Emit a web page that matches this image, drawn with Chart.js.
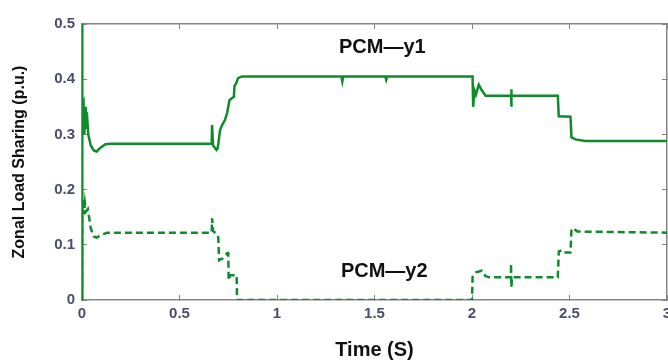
<!DOCTYPE html>
<html>
<head>
<meta charset="utf-8">
<script src="https://cdn.jsdelivr.net/npm/chart.js@4"></script>
<style>
  html, body { margin: 0; padding: 0; background: #fff; }
  #wrap { width: 668px; height: 362px; }
</style>
</head>
<body>
<div id="wrap"><canvas id="graph" width="668" height="362"></canvas></div>
<script>
// PCM-y1 (solid) : time (s) / load share (p.u.)
var y1Time = [0, 0, 0.003, 0.008, 0.012, 0.016, 0.02, 0.025, 0.032, 0.045, 0.06, 0.075, 0.095, 0.12, 0.15,
  0.665, 0.667, 0.672, 0.69, 0.696, 0.708, 0.72, 0.733, 0.745, 0.756, 0.77, 0.779, 0.782, 0.79, 0.8, 0.82,
  1.33, 1.335, 1.34, 1.555, 1.56, 1.565, 2.003, 2.006, 2.012, 2.02, 2.035, 2.05, 2.07,
  2.2, 2.2, 2.202, 2.205, 2.44, 2.445, 2.505, 2.51, 2.53, 2.58, 3];
var y1Vals = [0, 0.5, 0.35, 0.357, 0.30, 0.35, 0.31, 0.34, 0.30, 0.28, 0.271, 0.269, 0.276, 0.282, 0.283,
  0.283, 0.317, 0.28, 0.272, 0.275, 0.308, 0.318, 0.326, 0.34, 0.362, 0.366, 0.368, 0.388, 0.392, 0.402, 0.405,
  0.405, 0.396, 0.405, 0.405, 0.399, 0.405, 0.405, 0.35, 0.38, 0.372, 0.39, 0.38, 0.37,
  0.37, 0.382, 0.35, 0.37, 0.37, 0.333, 0.332, 0.295, 0.291, 0.288, 0.288];

// PCM-y2 (dashed)
var y2Time = [0, 0.001, 0.005, 0.01, 0.015, 0.02, 0.03, 0.045, 0.06, 0.075, 0.1, 0.13,
  0.665, 0.667, 0.672, 0.695, 0.699, 0.703, 0.72, 0.745, 0.75, 0.752, 0.76, 0.793, 0.795,
  2.0, 2.003, 2.02, 2.05, 2.07, 2.09, 2.2, 2.2, 2.202, 2.205, 2.44, 2.445, 2.46, 2.47, 2.505,
  2.51, 2.52, 2.54, 3];
var y2Vals = [0, 0.17, 0.181, 0.155, 0.175, 0.16, 0.165, 0.13, 0.115, 0.113, 0.118, 0.122,
  0.122, 0.148, 0.125, 0.118, 0.112, 0.072, 0.075, 0.085, 0.085, 0.036, 0.045, 0.045, 0,
  0, 0.042, 0.05, 0.053, 0.043, 0.041, 0.041, 0.066, 0.023, 0.041, 0.041, 0.088, 0.09, 0.086, 0.086,
  0.128, 0.13, 0.124, 0.122];

var xTickLabels = ['0', '0.5', '1', '1.5', '2', '2.5', '3'];
var yTickLabels = ['0', '0.1', '0.2', '0.3', '0.4', '0.5'];

// curve labels placed in data coordinates
var labelTexts = ['PCM\u2014y1', 'PCM\u2014y2'];
var labelTime = [1.54, 1.55];
var labelVals = [0.457, 0.051];

var vert = '#0e8c2c';
var gris = '#858585';
var texteTicks = '#48506a';

function versPoints(tx, ty) {
  var pts = [];
  for (var i = 0; i < tx.length; i++) {
    pts.push({ x: tx[i], y: ty[i] });
  }
  return pts;
}

var etiquettes = {
  id: 'etiquettes',
  afterDatasetsDraw: function (chart) {
    var ctx = chart.ctx;
    var sx = chart.scales.x, sy = chart.scales.y;
    ctx.save();
    ctx.font = 'bold 20px "Liberation Sans", Arial, sans-serif';
    ctx.fillStyle = '#111';
    ctx.textAlign = 'center';
    ctx.textBaseline = 'middle';
    for (var i = 0; i < labelTexts.length; i++) {
      ctx.fillText(labelTexts[i], sx.getPixelForValue(labelTime[i]), sy.getPixelForValue(labelVals[i]));
    }
    ctx.restore();
  }
};

var ctx = document.getElementById('graph').getContext('2d');
var monGraph = new Chart(ctx, {
  type: 'line',
  data: {
    datasets: [{
      label: 'PCM-y1',
      data: versPoints(y1Time, y1Vals),
      borderColor: vert,
      borderWidth: 2.5,
      pointRadius: 0,
      tension: 0
    },
    {
      label: 'PCM-y2',
      data: versPoints(y2Time, y2Vals),
      borderColor: vert,
      borderWidth: 2.5,
      borderDash: [7, 4],
      pointRadius: 0,
      tension: 0
    }]
  },
  options: {
    responsive: false,
    animation: false,
    layout: { autoPadding: false, padding: { top: 23, right: 0, left: 0, bottom: 0 } },
    plugins: { legend: { display: false }, tooltip: { enabled: false } },
    scales: {
      x: {
        type: 'linear', position: 'bottom', min: 0, max: 3,
        afterFit: function (s) { s.height = 62; s.paddingLeft = 0; s.paddingRight = 0; },
        border: { color: gris, width: 1.5 },
        grid: { drawOnChartArea: false, tickLength: -5, color: gris },
        ticks: {
          stepSize: 0.5, autoSkip: false, maxRotation: 0, padding: 10, color: texteTicks,
          font: { family: '"Liberation Sans", Arial, sans-serif', size: 15, weight: 'bold' },
          callback: function (v, i) { return xTickLabels[i]; }
        },
        title: {
          display: true, text: 'Time (S)', color: '#111', padding: { top: 0, bottom: 0 },
          font: { family: '"Liberation Sans", Arial, sans-serif', size: 20, weight: 'bold' }
        }
      },
      y: {
        type: 'linear', position: 'left', min: 0, max: 0.5,
        afterFit: function (s) { s.width = 82; s.paddingTop = 0; s.paddingBottom = 0; },
        border: { color: gris, width: 1.5 },
        grid: { drawOnChartArea: false, tickLength: -5, color: gris },
        ticks: {
          stepSize: 0.1, padding: 12, color: texteTicks,
          font: { family: '"Liberation Sans", Arial, sans-serif', size: 15, weight: 'bold' },
          callback: function (v, i) { return yTickLabels[i]; }
        },
        title: {
          display: true, text: 'Zonal Load Sharing (p.u.)', color: '#111', padding: { top: 10, bottom: 0 },
          font: { family: '"Liberation Sans", Arial, sans-serif', size: 16, weight: 'bold' }
        }
      },
      xHaut: {
        type: 'linear', position: 'top', min: 0, max: 3, display: true,
        afterFit: function (s) { s.height = 1; s.paddingLeft = 0; s.paddingRight = 0; },
        border: { display: true, color: gris, width: 1.5 },
        grid: { drawOnChartArea: false, tickLength: -5, color: gris },
        ticks: { stepSize: 0.5, padding: 0, color: 'rgba(0,0,0,0)' }
      },
      yDroite: {
        type: 'linear', position: 'right', min: 0, max: 0.5, display: true,
        afterFit: function (s) { s.width = 1; s.paddingTop = 0; s.paddingBottom = 0; },
        border: { display: true, color: gris, width: 1.5 },
        grid: { drawOnChartArea: false, tickLength: -5, color: gris },
        ticks: { stepSize: 0.1, padding: 0, color: 'rgba(0,0,0,0)' }
      }
    }
  },
  plugins: [etiquettes]
});
</script>
</body>
</html>
